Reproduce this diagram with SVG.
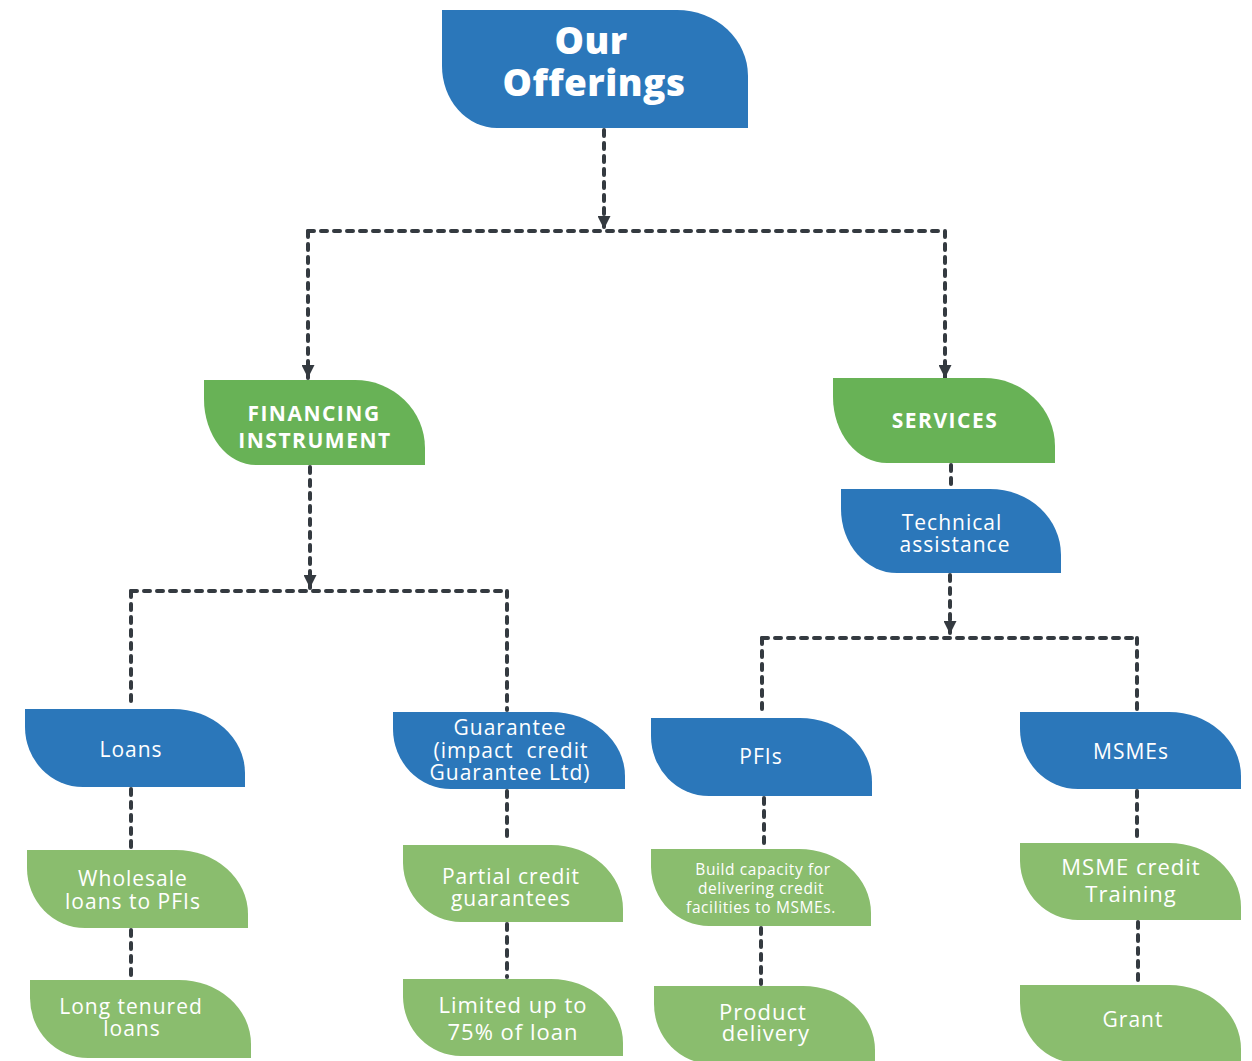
<svg xmlns="http://www.w3.org/2000/svg" width="1252" height="1061" viewBox="0 0 1252 1061">
<style>
.blue{fill:#2b77ba}
.green{fill:#68b256}
.lgreen{fill:#8abd6e}
text{font-family:"Open Sans","Liberation Sans",sans-serif;fill:#ffffff;text-anchor:middle}
.t{font-size:21px;letter-spacing:1px}
.b{font-weight:700;font-size:21px;letter-spacing:1.5px}
.h{font-weight:800;font-size:37px;letter-spacing:0.5px}
.s{font-size:15.5px;letter-spacing:0.6px}
.l{font-size:22px;letter-spacing:1px}
.c{fill:none;stroke:#343a40;stroke-width:4;stroke-dasharray:6 7;stroke-linecap:round}
</style>
<defs>
<marker id="ah" markerWidth="13" markerHeight="13" refX="13" refY="6.5" orient="auto" markerUnits="userSpaceOnUse" viewBox="0 0 13 13">
<path d="M0,0 L13,6.5 L0,13 Z" fill="#343a40"/>
</marker>
</defs>
<g id="connectors">
<path class="c" d="M604,130 V229" marker-end="url(#ah)"/>
<path class="c" d="M308,231 H945"/>
<path class="c" d="M308,231 V378" marker-end="url(#ah)"/>
<path class="c" d="M945,231 V378" marker-end="url(#ah)"/>
<path class="c" d="M310,467 V588" marker-end="url(#ah)"/>
<path class="c" d="M131,591 H508"/>
<path class="c" d="M131,591 V707"/>
<path class="c" d="M507,591 V710"/>
<path class="c" d="M951,465 V487"/>
<path class="c" d="M950,575 V634" marker-end="url(#ah)"/>
<path class="c" d="M762,638 H1138"/>
<path class="c" d="M762,638 V716"/>
<path class="c" d="M1137,638 V710"/>
<path class="c" d="M131,789 V848"/>
<path class="c" d="M131,930 V978"/>
<path class="c" d="M507,791 V843"/>
<path class="c" d="M507,924 V977"/>
<path class="c" d="M764,798 V847"/>
<path class="c" d="M761,928 V984"/>
<path class="c" d="M1137,791 V841"/>
<path class="c" d="M1138,922 V983"/>
</g>
<g id="n-our-offerings">
<path class="blue" d="M442,10 H677 A71 66 0 0 1 748,76 V128 H497 A55 62 0 0 1 442,66 Z"/>
<text class="h" x="591" y="54">Our</text>
<text class="h" x="594" y="96">Offerings</text>
</g>
<g id="n-financing">
<path class="green" d="M204,380 H355 A70 68 0 0 1 425,448 V465 H256 A52 66 0 0 1 204,399 Z"/>
<text class="b" x="314" y="421">FINANCING</text>
<text class="b" x="315" y="448">INSTRUMENT</text>
</g>
<g id="n-services">
<path class="green" d="M833,378 H984 A71 68 0 0 1 1055,446 V463 H887 A54 66 0 0 1 833,397 Z"/>
<text class="b" x="945" y="428">SERVICES</text>
</g>
<g id="n-technical">
<path class="blue" d="M841,489 H990 A71 66 0 0 1 1061,555 V573 H897 A56 64 0 0 1 841,509 Z"/>
<text class="t" x="952" y="530">Technical</text>
<text class="t" x="955" y="552">assistance</text>
</g>
<g id="n-loans">
<path class="blue" d="M25,709 H173 A72 64 0 0 1 245,773 V787 H83 A58 60 0 0 1 25,727 Z"/>
<text class="t" x="131" y="757">Loans</text>
</g>
<g id="n-guarantee">
<path class="blue" d="M393,712 H551 A74 64 0 0 1 625,776 V789 H451 A58 60 0 0 1 393,729 Z"/>
<text class="t" x="510" y="735">Guarantee</text>
<text class="t" x="511" y="758" xml:space="preserve">(impact  credit</text>
<text class="t" x="510" y="780">Guarantee Ltd)</text>
</g>
<g id="n-pfis">
<path class="blue" d="M651,718 H800 A72 64 0 0 1 872,782 V796 H709 A58 60 0 0 1 651,736 Z"/>
<text class="t" x="761" y="764">PFIs</text>
</g>
<g id="n-msmes">
<path class="blue" d="M1020,712 H1169 A72 64 0 0 1 1241,776 V789 H1078 A58 60 0 0 1 1020,729 Z"/>
<text class="t" x="1131" y="759">MSMEs</text>
</g>
<g id="n-wholesale">
<path class="lgreen" d="M27,850 H176 A72 64 0 0 1 248,914 V928 H85 A58 60 0 0 1 27,868 Z"/>
<text class="t" x="133" y="886">Wholesale</text>
<text class="t" x="133" y="909">loans to PFIs</text>
</g>
<g id="n-long">
<path class="lgreen" d="M30,980 H179 A72 64 0 0 1 251,1044 V1058 H88 A58 60 0 0 1 30,998 Z"/>
<text class="t" x="131" y="1014">Long tenured</text>
<text class="t" x="132" y="1036">loans</text>
</g>
<g id="n-partial">
<path class="lgreen" d="M403,845 H551 A72 64 0 0 1 623,909 V922 H461 A58 60 0 0 1 403,863 Z"/>
<text class="t" x="511" y="884">Partial credit</text>
<text class="t" x="511" y="906">guarantees</text>
</g>
<g id="n-limited">
<path class="lgreen" d="M403,979 H551 A72 64 0 0 1 623,1043 V1056 H461 A58 60 0 0 1 403,997 Z"/>
<text class="l" x="513" y="1013">Limited up to</text>
<text class="l" x="513" y="1040">75% of loan</text>
</g>
<g id="n-build">
<path class="lgreen" d="M651,849 H799 A72 64 0 0 1 871,913 V926 H709 A58 60 0 0 1 651,867 Z"/>
<text class="s" x="763" y="875">Build capacity for</text>
<text class="s" x="761" y="894">delivering credit</text>
<text class="s" x="761" y="913">facilities to MSMEs.</text>
</g>
<g id="n-product">
<path class="lgreen" d="M654,986 H803 A72 64 0 0 1 875,1050 V1064 H712 A58 60 0 0 1 654,1004 Z"/>
<text class="l" x="763" y="1020">Product</text>
<text class="l" x="766" y="1041">delivery</text>
</g>
<g id="n-msme-credit">
<path class="lgreen" d="M1020,843 H1169 A72 64 0 0 1 1241,907 V920 H1078 A58 60 0 0 1 1020,861 Z"/>
<text class="l" x="1131" y="875">MSME credit</text>
<text class="l" x="1131" y="902">Training</text>
</g>
<g id="n-grant">
<path class="lgreen" d="M1020,985 H1169 A72 64 0 0 1 1241,1049 V1063 H1078 A58 60 0 0 1 1020,1003 Z"/>
<text class="t" x="1133" y="1027">Grant</text>
</g>
</svg>
